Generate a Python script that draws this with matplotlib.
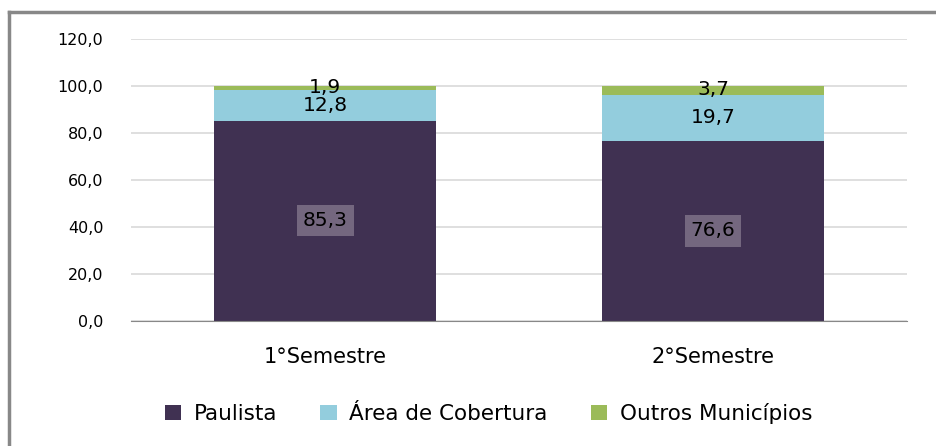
import matplotlib.pyplot as plt
from matplotlib.lines import Line2D
import numpy as np

categories = ["1°Semestre", "2°Semestre"]
paulista = [85.3, 76.6]
area = [12.8, 19.7]
outros = [1.9, 3.7]
series_names = ["Paulista", "Área de Cobertura", "Outros Municípios"]
colors = ["#403152", "#93CDDD", "#9BBB59"]

fig = plt.figure(figsize=(9.36, 4.46), dpi=100)
ax = fig.add_axes([0.14, 0.2803, 0.829, 0.6323])

x = np.arange(len(categories))
bottoms = np.zeros(len(categories))
for vals, name, c in zip([paulista, area, outros], series_names, colors):
    ax.bar(x, vals, width=0.57, bottom=bottoms, color=c, label=name, zorder=2)
    bottoms = bottoms + np.array(vals)

# data labels
fmt = lambda v: f"{v:.1f}".replace(".", ",")
for i in range(len(categories)):
    ax.text(x[i], paulista[i] / 2, fmt(paulista[i]), ha="center", va="center", fontsize=14.5,
            color="black", bbox=dict(boxstyle="square,pad=0.3", fc="#74677F", ec="none"))
    ax.text(x[i], paulista[i] + area[i] / 2, fmt(area[i]), ha="center", va="center",
            fontsize=14.5, color="black")
    ax.text(x[i], paulista[i] + area[i] + outros[i] / 2 + 0.5, fmt(outros[i]), ha="center",
            va="center", fontsize=14.5, color="black")

ax.set_xlim(-0.5, 1.5)
ax.set_ylim(0, 120)
yt = np.arange(0, 121, 20)
ax.set_yticks(yt)
ax.set_yticklabels([fmt(v) for v in yt], fontsize=11.5)
ax.set_xticks(x)
ax.set_xticklabels(categories, fontsize=15)
ax.tick_params(axis="y", length=0, pad=20)
ax.tick_params(axis="x", length=0, pad=19)
ax.grid(axis="y", color="#D9D9D9", linewidth=1.2, zorder=0)
for s in ["left", "right", "top"]:
    ax.spines[s].set_visible(False)
ax.spines["bottom"].set_color("#888888")
ax.spines["bottom"].set_zorder(3)

ax.legend(loc="center", bbox_to_anchor=(0.522, 0.073), bbox_transform=fig.transFigure,
          ncol=3, frameon=False, fontsize=15.5, handlelength=0.75, handleheight=0.75,
          columnspacing=2.0, handletextpad=0.6)

# outer frame (left and top visible)
fig.add_artist(Line2D([0.0101, 0.0101], [0, 0.973], color="#888888", linewidth=2.5))
fig.add_artist(Line2D([0.0101, 1.0], [0.973, 0.973], color="#888888", linewidth=2.5))

fig.savefig("out.png", dpi=100)
